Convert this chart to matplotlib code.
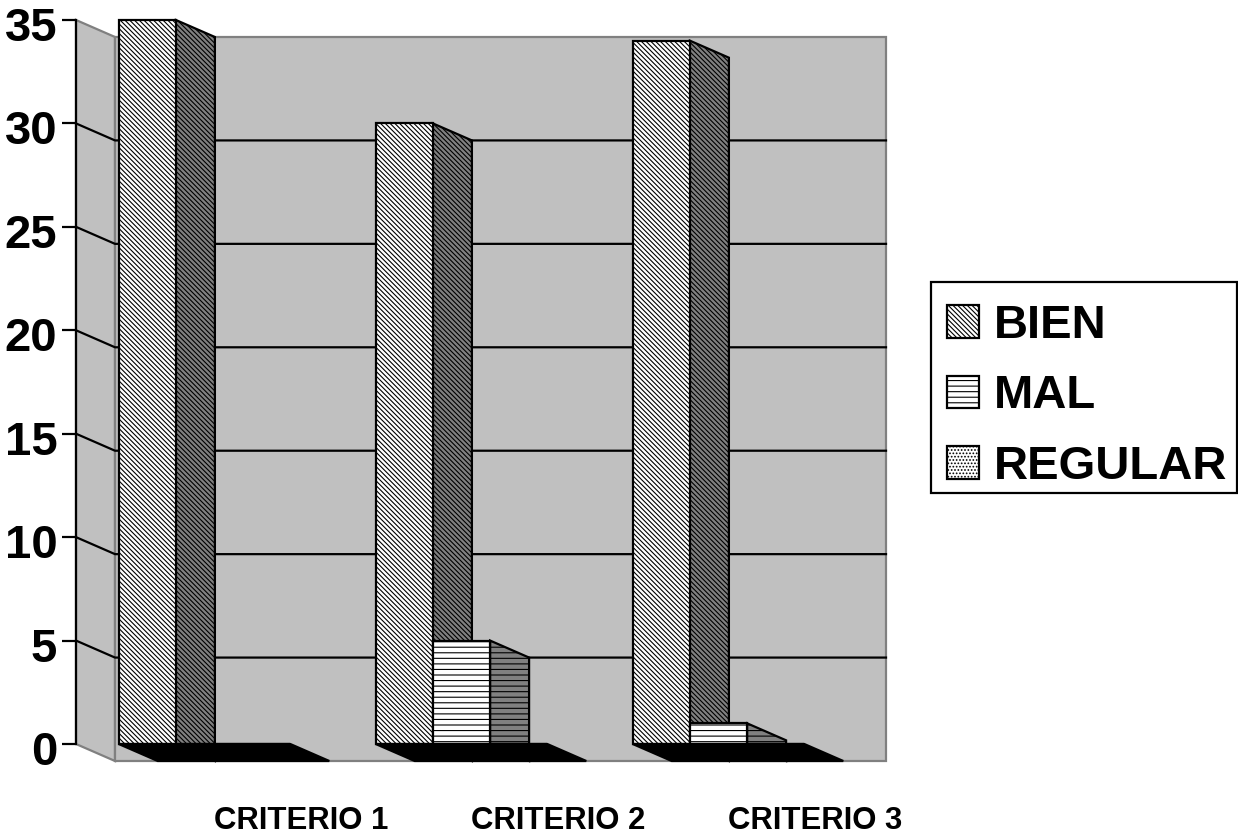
import matplotlib
matplotlib.use("Agg")
import matplotlib.pyplot as plt
from matplotlib.patches import Polygon, Patch, Rectangle
from matplotlib.transforms import ScaledTranslation

categories = ["CRITERIO 1", "CRITERIO 2", "CRITERIO 3"]
series_names = ["BIEN", "MAL", "REGULAR"]
bien = [35, 30, 34]
mal = [0, 5, 1]
regular = [0, 0, 0]
y_ticks = [0, 5, 10, 15, 20, 25, 30, 35]

W, H = 1238, 834
plt.rcParams["font.family"] = ["Liberation Sans", "DejaVu Sans"]
plt.rcParams["font.weight"] = "bold"
plt.rcParams["hatch.linewidth"] = 0.8

fig = plt.figure(figsize=(W / 100, H / 100), dpi=100, facecolor="white")
ax = fig.add_axes([76 / W, (H - 744) / H, 771 / W, 724 / H])
ax.set_xlim(0, 3)
ax.set_ylim(0, 35)
ax.set_facecolor("none")

# depth of the 3D box, in data units (it runs right and downwards)
dx = 39 / 257
dy = -17 / (724 / 35)
bar_w = 0.2225
margin = (1 - 3 * bar_w) / 2
wall_grey = "#c0c0c0"
edge_grey = "#808080"
lw = 1.6

styles = [
    {"hatch": "\\\\\\\\\\\\\\", "front": "white", "side": "#808080"},
    {"hatch": "---", "front": "white", "side": "#808080"},
    {"hatch": ".....", "front": "white", "side": "#808080"},
]


def poly(points, **kw):
    ax.add_patch(Polygon(points, closed=True, clip_on=False, **kw))


# side wall and back wall
poly([(0, 0), (dx, dy), (dx, 35 + dy), (0, 35)], facecolor=wall_grey,
     edgecolor=edge_grey, linewidth=lw, zorder=1)
poly([(dx, dy), (3 + dx, dy), (3 + dx, 35 + dy), (dx, 35 + dy)],
     facecolor=wall_grey, edgecolor=edge_grey, linewidth=lw, zorder=1)

# gridlines run along both walls
for v in y_ticks[1:-1]:
    ax.plot([0, dx, 3 + dx], [v, v + dy, v + dy], color="black", lw=lw,
            clip_on=False, zorder=2, solid_joinstyle="miter")

z = 3
for s, values in enumerate([bien, mal, regular]):
    st = styles[s]
    for c, v in enumerate(values):
        x0 = c + margin + s * bar_w
        x1 = x0 + bar_w
        if v > 0:
            poly([(x1, 0), (x1, v), (x1 + dx, v + dy), (x1 + dx, dy)],
                 facecolor=st["side"], edgecolor="black", hatch=st["hatch"],
                 linewidth=lw, zorder=z)
        ax.bar(x0, v, width=bar_w, bottom=0, align="edge", facecolor=st["front"],
               edgecolor="black", hatch=st["hatch"], linewidth=lw, zorder=z + 0.5,
               clip_on=False)
    z += 1

# black floor under each cluster sits over the bar sides
for c in range(len(categories)):
    x0 = c + margin
    x1 = x0 + 3 * bar_w
    poly([(x0, 0), (x1, 0), (x1 + dx, dy), (x0 + dx, dy)], facecolor="black",
         edgecolor="black", linewidth=lw, zorder=10)

for name in ["top", "right", "bottom"]:
    ax.spines[name].set_visible(False)
ax.spines["left"].set_linewidth(lw)
ax.spines["left"].set_zorder(11)

ax.set_yticks(y_ticks)
ax.tick_params(axis="y", length=10, width=lw, pad=3.5, labelsize=34)
for t in ax.get_yticklabels():
    t.set_fontweight("bold")
    t.set_transform(t.get_transform() + ScaledTranslation(0, -4 / 100, fig.dpi_scale_trans))

ax.set_xticks([0.5, 1.5, 2.5])
ax.set_xticklabels(categories, fontsize=22.4, fontweight="bold")
ax.tick_params(axis="x", length=0, pad=44.5)
for t in ax.get_xticklabels():
    t.set_transform(t.get_transform() + ScaledTranslation(97 / 100, 0, fig.dpi_scale_trans))

# legend frame has a fixed size, entries are placed inside it
fig.add_artist(Rectangle((931 / W, 1 - 493 / H), 306 / W, 211 / H, transform=fig.transFigure,
                         facecolor="white", edgecolor="black", linewidth=lw))
handles = [Patch(facecolor="white", edgecolor="black", hatch=st["hatch"], linewidth=lw, label=n)
           for st, n in zip(styles, series_names)]
fig.legend(handles=handles, loc="upper left", bbox_to_anchor=(947 / W, 1 - 304 / H),
           borderaxespad=0, frameon=False, prop={"size": 34, "weight": "bold"},
           handlelength=0.68, handleheight=0.68, handletextpad=0.32,
           labelspacing=0.56, borderpad=0)

fig.savefig("out.png", dpi=100)
